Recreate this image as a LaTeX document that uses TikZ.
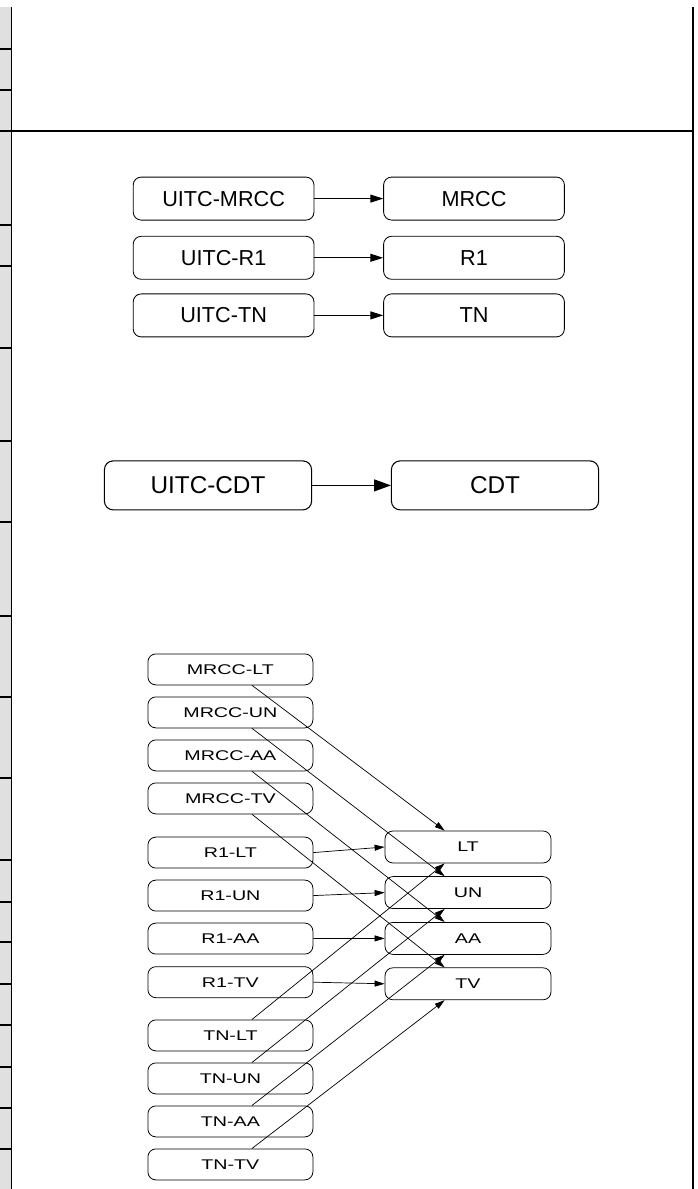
\documentclass[tikz,border=0pt]{standalone}
\usepackage{fontspec}
\setmainfont{Liberation Sans}
\newfontfamily\widesans[FakeStretch=1.4]{Liberation Sans}
\usepackage{xcolor}
\usepackage{tikz}
\usetikzlibrary{arrows.meta, calc}
\definecolor{kgrey}{HTML}{E0E0E0}

\begin{document}
\begin{tikzpicture}[x=1cm, y=1cm,
  uitcbox/.style={draw=black, line width=0.6pt, rounded corners=0.2cm, inner sep=0pt,
    minimum width=4.52cm, minimum height=1.075cm, font=\fontsize{15.4}{18}\selectfont},
  cdtbox/.style={draw=black, line width=0.75pt, rounded corners=0.22cm, inner sep=0pt,
    minimum width=5.18cm, minimum height=1.225cm, font=\fontsize{17.3}{20}\selectfont},
  leafbox/.style={draw=black, line width=0.55pt, rounded corners=0.2cm, inner sep=0pt,
    minimum width=4.125cm, minimum height=0.775cm, font=\widesans\fontsize{10}{12}\selectfont},
  sinkbox/.style={leafbox, minimum width=4.15cm, minimum height=0.8cm},
  flow/.style={-{Triangle[length=0.32cm, width=0.2cm]}, line width=0.6pt},
  bigflow/.style={-{Triangle[length=0.42cm, width=0.3cm]}, line width=0.7pt},
  leafflow/.style={-{Triangle[length=0.25cm, width=0.15cm]}, line width=0.5pt}]
\useasboundingbox (0,0) rectangle (17.425,29.725);

% frame and the cut off column on the left
\fill[kgrey] (0,0) rectangle (0.29,29.56);
\draw[line width=1.1pt] (0.29,0) -- (0.29,29.56);
\draw[line width=1.1pt] (17.32,0) -- (17.32,29.56);
\draw[line width=1.1pt] (0,26.45) -- (17.32,26.45);
\draw[line width=1.1pt]
  (0,28.5) -- (0.29,28.5) (0,27.475) -- (0.29,27.475) (0,24.1) -- (0.29,24.1)
  (0,23.075) -- (0.29,23.075) (0,21.025) -- (0.29,21.025) (0,18.7) -- (0.29,18.7)
  (0,16.675) -- (0.29,16.675) (0,14.325) -- (0.29,14.325) (0,12.3) -- (0.29,12.3)
  (0,10.275) -- (0.29,10.275) (0,8.225) -- (0.29,8.225) (0,7.175) -- (0.29,7.175)
  (0,6.175) -- (0.29,6.175) (0,5.125) -- (0.29,5.125) (0,4.1) -- (0.29,4.1)
  (0,3.05) -- (0.29,3.05) (0,2.025) -- (0.29,2.025) (0,1.0) -- (0.29,1.0);

% UITC to domain
\node[uitcbox] (uitcmrcc) at (5.59,24.76) {UITC-MRCC};
\node[uitcbox] (mrcc) at (11.85,24.76) {MRCC};
\node[uitcbox] (uitcr1) at (5.59,23.28) {UITC-R1};
\node[uitcbox] (r1) at (11.85,23.28) {R1};
\node[uitcbox] (uitctn) at (5.59,21.84) {UITC-TN};
\node[uitcbox] (tn) at (11.85,21.84) {TN};
\draw[flow] (uitcmrcc) -- (mrcc);
\draw[flow] (uitcr1) -- (r1);
\draw[flow] (uitctn) -- (tn);

% CDT
\node[cdtbox] (uitccdt) at (5.2,17.59) {UITC-CDT};
\node[cdtbox] (cdt) at (12.375,17.59) {CDT};
\draw[bigflow] (uitccdt) -- (cdt);

% domain to LT / UN / AA / TV
\node[leafbox] (mrcclt) at (5.76,12.99) {MRCC-LT};
\node[leafbox] (mrccun) at (5.76,11.915) {MRCC-UN};
\node[leafbox] (mrccaa) at (5.76,10.84) {MRCC-AA};
\node[leafbox] (mrcctv) at (5.76,9.765) {MRCC-TV};
\node[leafbox] (rlt) at (5.76,8.41) {R1-LT};
\node[leafbox] (run) at (5.76,7.335) {R1-UN};
\node[leafbox] (raa) at (5.76,6.26) {R1-AA};
\node[leafbox] (rtv) at (5.76,5.17) {R1-TV};
\node[leafbox] (tnlt) at (5.76,3.84) {TN-LT};
\node[leafbox] (tnun) at (5.76,2.765) {TN-UN};
\node[leafbox] (tnaa) at (5.76,1.69) {TN-AA};
\node[leafbox] (tntv) at (5.76,0.615) {TN-TV};
\node[sinkbox] (lt) at (11.7,8.55) {LT};
\node[sinkbox] (un) at (11.7,7.41) {UN};
\node[sinkbox] (aa) at (11.7,6.265) {AA};
\node[sinkbox] (tv) at (11.7,5.13) {TV};
\draw[leafflow] ($(mrcclt.south west)!0.63!(mrcclt.south east)$) -- ($(lt.north west)!0.36!(lt.north east)$);
\draw[leafflow] ($(mrccun.south west)!0.63!(mrccun.south east)$) -- ($(un.north west)!0.36!(un.north east)$);
\draw[leafflow] ($(mrccaa.south west)!0.63!(mrccaa.south east)$) -- ($(aa.north west)!0.36!(aa.north east)$);
\draw[leafflow] ($(mrcctv.south west)!0.63!(mrcctv.south east)$) -- ($(tv.north west)!0.36!(tv.north east)$);
\draw[leafflow] (rlt.east) -- (lt.west);
\draw[leafflow] (run.east) -- (un.west);
\draw[leafflow] (raa.east) -- (aa.west);
\draw[leafflow] (rtv.east) -- (tv.west);
\draw[leafflow] ($(tnlt.north west)!0.63!(tnlt.north east)$) -- ($(lt.south west)!0.36!(lt.south east)$);
\draw[leafflow] ($(tnun.north west)!0.63!(tnun.north east)$) -- ($(un.south west)!0.36!(un.south east)$);
\draw[leafflow] ($(tnaa.north west)!0.63!(tnaa.north east)$) -- ($(aa.south west)!0.36!(aa.south east)$);
\draw[leafflow] ($(tntv.north west)!0.63!(tntv.north east)$) -- ($(tv.south west)!0.36!(tv.south east)$);
\end{tikzpicture}
\end{document}
